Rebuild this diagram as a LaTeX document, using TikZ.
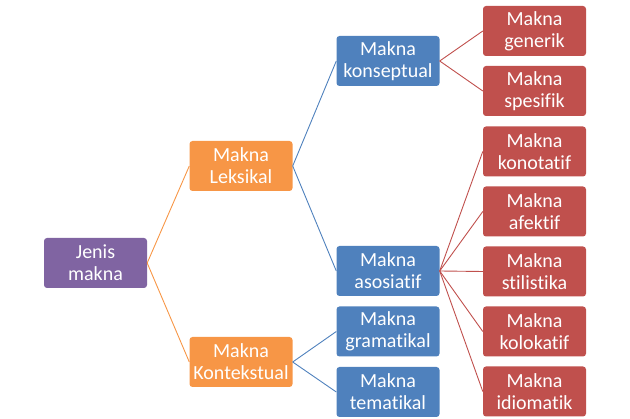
\documentclass[tikz,border=0pt]{standalone}
\usepackage{fontspec}
\setmainfont{Carlito}[Ligatures={NoCommon,NoRare}]
\usetikzlibrary{positioning}
\definecolor{mpurple}{HTML}{8064A2}
\definecolor{morange}{HTML}{F79646}
\definecolor{mblue}{HTML}{4F81BD}
\definecolor{mred}{HTML}{C0504D}

\begin{document}
\begin{tikzpicture}[x=1pt,y=-1pt,
  font=\fontsize{20}{22}\selectfont,
  b/.style={rounded corners=3pt,align=center,text=white,inner sep=0pt,
            minimum width=103pt,minimum height=50pt},
  lnk/.style={line width=0.9pt}]
  \useasboundingbox (0,0) rectangle (630,419);
  % level 0
  \node[b,fill=mpurple] (jenis) at (95.5,263) {Jenis\\makna};
  % level 1
  \node[b,fill=morange] (leks) at (241,166) {Makna\\Leksikal};
  \node[b,fill=morange] (kont) at (241,362) {Makna\\Kontekstual};
  % level 2
  \node[b,fill=mblue] (konsep) at (388,61) {Makna\\konseptual};
  \node[b,fill=mblue] (asos) at (388,271) {Makna\\asosiatif};
  \node[b,fill=mblue] (gram) at (388,331.5) {Makna\\gramatikal};
  \node[b,fill=mblue] (tema) at (388,392) {Makna\\tematikal};
  % level 3
  \node[b,fill=mred] (gener) at (534.5,31) {Makna\\generik};
  \node[b,fill=mred] (spes) at (534.5,91) {Makna\\spesifik};
  \node[b,fill=mred] (kono) at (534.5,151.5) {Makna\\konotatif};
  \node[b,fill=mred] (afek) at (534.5,211.5) {Makna\\afektif};
  \node[b,fill=mred] (stil) at (534.5,271.5) {Makna\\stilistika};
  \node[b,fill=mred] (kolo) at (534.5,331.5) {Makna\\kolokatif};
  \node[b,fill=mred] (idio) at (534.5,391.5) {Makna\\idiomatik};
  % connectors
  \draw[lnk,morange] (jenis.east) -- (leks.west);
  \draw[lnk,morange] (jenis.east) -- (kont.west);
  \draw[lnk,mblue] (leks.east) -- (konsep.west);
  \draw[lnk,mblue] (leks.east) -- (asos.west);
  \draw[lnk,mblue] (kont.east) -- (gram.west);
  \draw[lnk,mblue] (kont.east) -- (tema.west);
  \draw[lnk,mred] (konsep.east) -- (gener.west);
  \draw[lnk,mred] (konsep.east) -- (spes.west);
  \draw[lnk,mred] (asos.east) -- (kono.west);
  \draw[lnk,mred] (asos.east) -- (afek.west);
  \draw[lnk,mred] (asos.east) -- (stil.west);
  \draw[lnk,mred] (asos.east) -- (kolo.west);
  \draw[lnk,mred] (asos.east) -- (idio.west);
\end{tikzpicture}
\end{document}
